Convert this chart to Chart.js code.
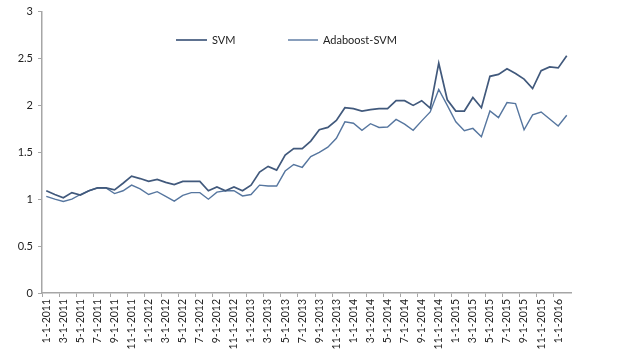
<!DOCTYPE html>
<html>
<head>
<meta charset="utf-8">
<script src="https://cdn.jsdelivr.net/npm/chart.js@4"></script>
<style>
  html, body { margin: 0; padding: 0; background: #fff; }
  #wrap { position: relative; width: 620px; height: 350px; }
</style>
</head>
<body>
<div id="wrap"><canvas id="mycanvas" width="620" height="350"></canvas></div>
<script>
// monthly labels 1-1-2011 .. 2-1-2016
var months = [];
for (var y = 2011; y <= 2016; y++) {
	for (var m = 1; m <= 12; m++) {
		if (y == 2016 && m > 2) break;
		months.push(m + "-1-" + y);
	}
}

var svm = [1.09, 1.05, 1.015, 1.07, 1.045, 1.09, 1.12, 1.12, 1.10, 1.17,
	1.245, 1.22, 1.19, 1.21, 1.18, 1.155, 1.19, 1.19, 1.19, 1.09,
	1.13, 1.09, 1.13, 1.09, 1.15, 1.29, 1.35, 1.31, 1.47, 1.54,
	1.54, 1.62, 1.74, 1.765, 1.84, 1.975, 1.965, 1.94, 1.955, 1.965,
	1.965, 2.05, 2.05, 2.0, 2.05, 1.97, 2.45, 2.06, 1.94, 1.94,
	2.085, 1.975, 2.31, 2.33, 2.39, 2.34, 2.28, 2.18, 2.37, 2.41,
	2.40, 2.53];

var adaboost = [1.03, 1.0, 0.975, 1.0, 1.05, 1.09, 1.12, 1.12, 1.06, 1.09,
	1.15, 1.11, 1.05, 1.08, 1.03, 0.98, 1.04, 1.07, 1.07, 1.0,
	1.075, 1.09, 1.09, 1.035, 1.05, 1.15, 1.14, 1.14, 1.30, 1.37,
	1.34, 1.455, 1.50, 1.555, 1.65, 1.825, 1.81, 1.735, 1.805, 1.765,
	1.77, 1.85, 1.80, 1.735, 1.835, 1.93, 2.17, 2.0, 1.825, 1.73,
	1.755, 1.665, 1.94, 1.87, 2.03, 2.02, 1.74, 1.90, 1.93, 1.855,
	1.78, 1.895];

var yTicks = [0, 0.5, 1, 1.5, 2, 2.5, 3];

var axisColor = '#a6a6a6';
var font = { family: 'Lato, "Liberation Sans", sans-serif', size: 11 };

// legend drawn inside the plot, like the original
var innerLegend = {
	id: 'innerLegend',
	afterDraw: function(chart) {
		var ctx = chart.ctx;
		var items = [
			{ x1: 176, x2: 207, tx: 212 },
			{ x1: 288, x2: 318, tx: 323 }
		];
		ctx.save();
		ctx.font = '11px Lato, "Liberation Sans", sans-serif';
		ctx.textBaseline = 'middle';
		chart.data.datasets.forEach(function(ds, i) {
			var it = items[i];
			ctx.strokeStyle = ds.borderColor;
			ctx.lineWidth = ds.borderWidth;
			ctx.beginPath();
			ctx.moveTo(it.x1, 40);
			ctx.lineTo(it.x2, 40);
			ctx.stroke();
			ctx.fillStyle = '#222';
			ctx.fillText(ds.label, it.tx, 40);
		});
		ctx.restore();
	}
};

var ctx = document.getElementById("mycanvas");
var lineGraph = new Chart(ctx, {
	type: 'line',
	data: {
		labels: months,
		datasets: [
			{
				label: 'SVM',
				data: svm,
				borderColor: '#41597c',
				borderWidth: 1.7,
				pointRadius: 0,
				tension: 0,
				fill: false
			},
			{
				label: 'Adaboost-SVM',
				data: adaboost,
				borderColor: '#56769f',
				borderWidth: 1.4,
				pointRadius: 0,
				tension: 0,
				fill: false
			}
		]
	},
	options: {
		responsive: false,
		animation: false,
		layout: { padding: { left: 0, right: 49, top: 11, bottom: 0 } },
		plugins: {
			legend: { display: false },
			tooltip: { enabled: false }
		},
		scales: {
			x: {
				offset: true,
				grid: {
					offset: true,
					drawOnChartArea: false,
					drawTicks: true,
					tickLength: 4,
					color: function(c) { return c.index % 2 == 0 ? axisColor : 'rgba(0,0,0,0)'; }
				},
				border: { color: axisColor, width: 1.5 },
				ticks: {
					autoSkip: false,
					maxRotation: 90,
					minRotation: 90,
					padding: 2,
					color: '#222',
					font: { family: font.family, size: 10.5 },
					callback: function(v, i) { return i % 2 == 0 ? months[i] : ''; }
				},
				afterFit: function(s) { s.height = 57; }
			},
			y: {
				min: 0,
				max: 3,
				afterBuildTicks: function(s) {
					s.ticks = yTicks.map(function(v) { return { value: v }; });
				},
				grid: {
					drawOnChartArea: false,
					drawTicks: true,
					tickLength: 4,
					color: axisColor
				},
				border: { color: axisColor, width: 1.5 },
				ticks: {
					padding: 5,
					color: '#222',
					font: font,
					callback: function(v) { return String(v); }
				},
				afterFit: function(s) { s.width = 42; }
			}
		}
	},
	plugins: [innerLegend]
});
</script>
</body>
</html>
